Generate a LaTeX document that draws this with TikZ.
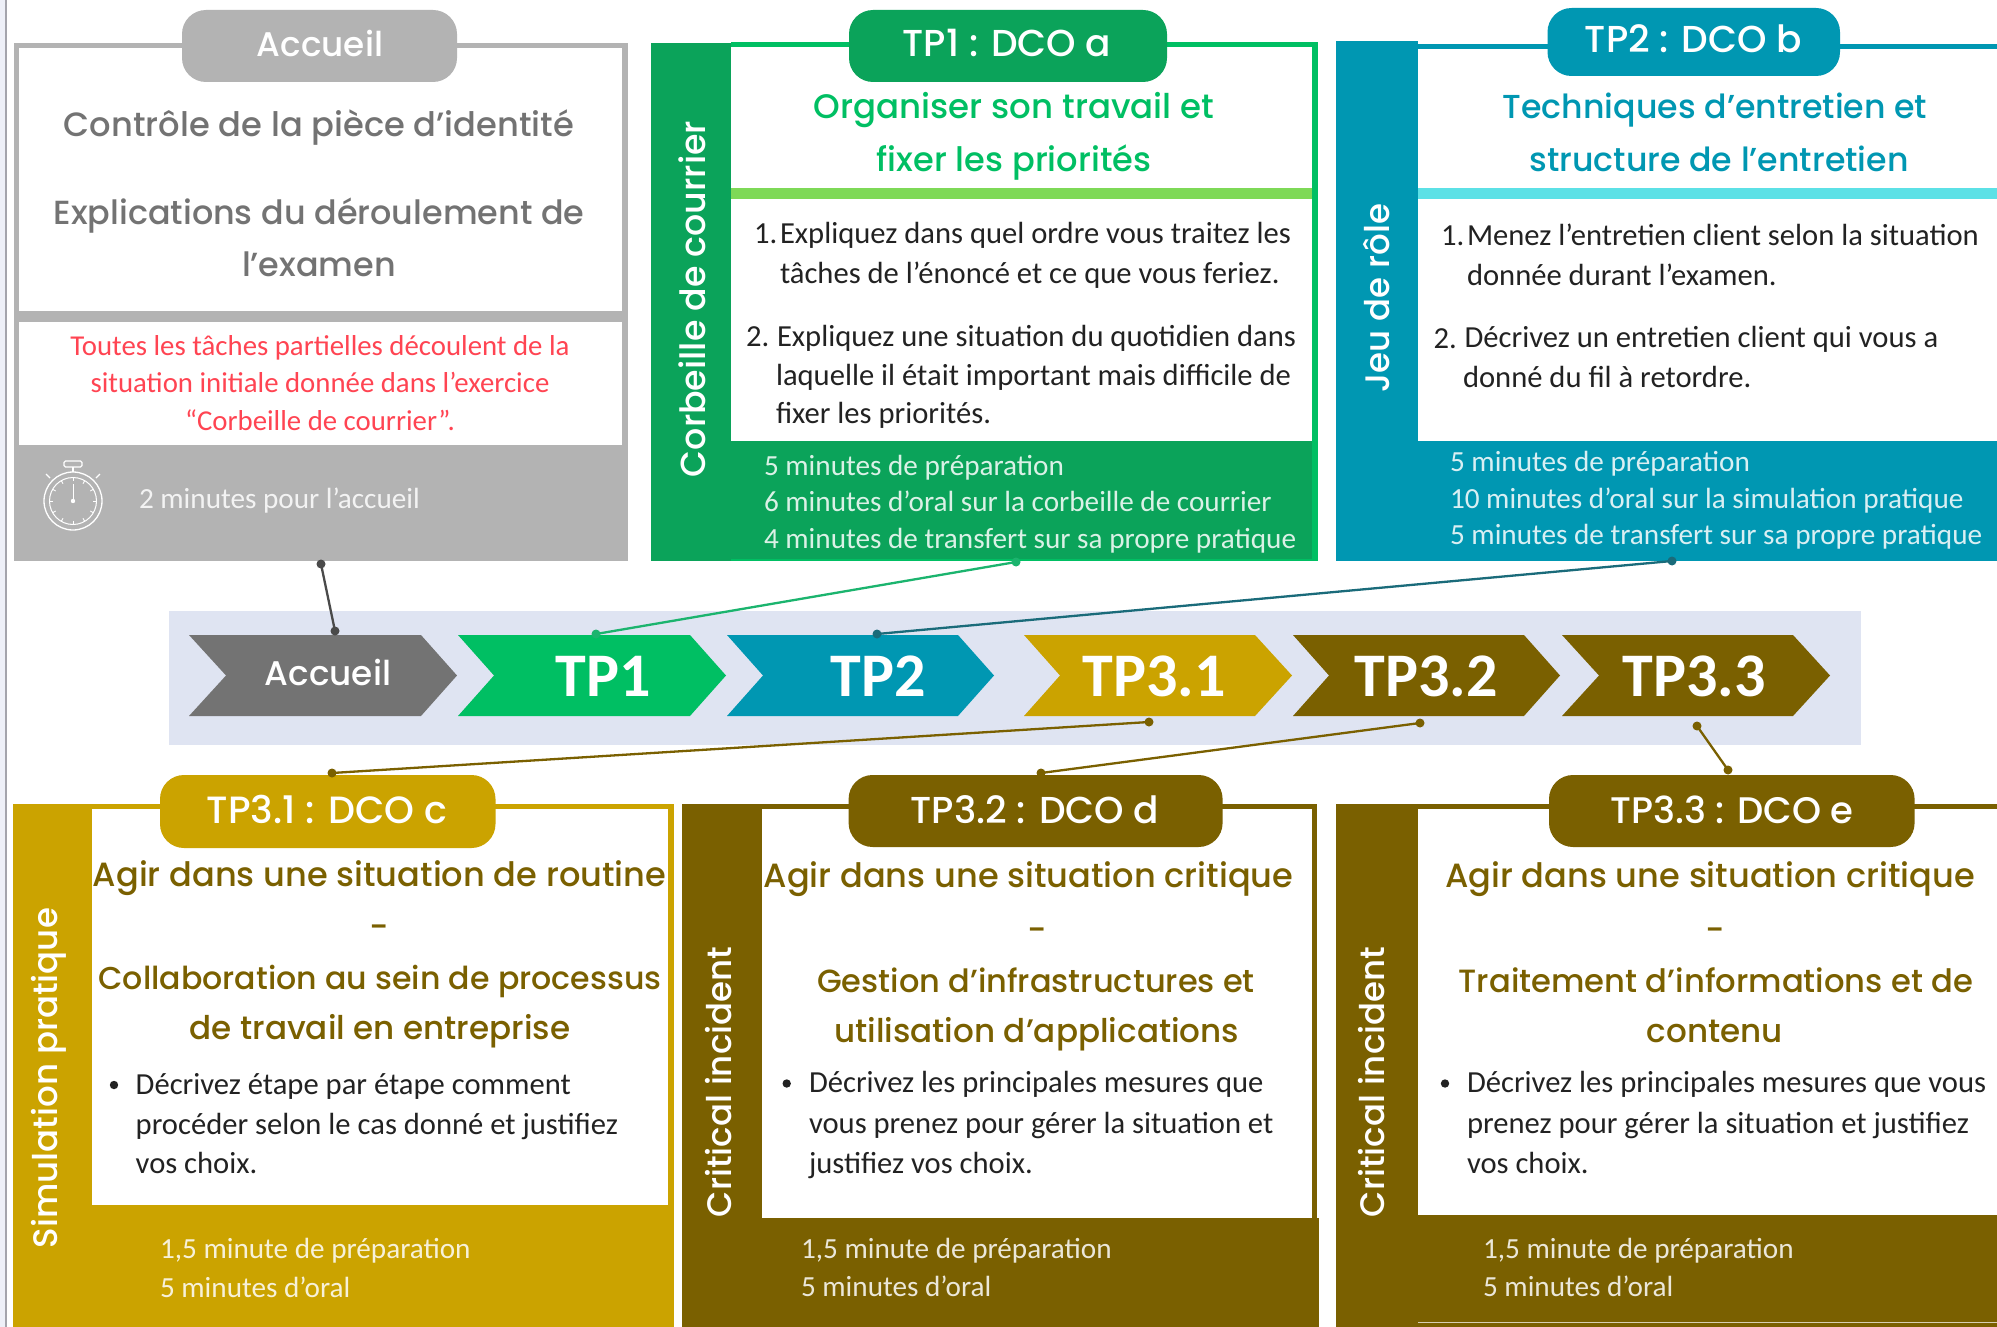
\documentclass[tikz,border=0pt]{standalone}
\usepackage{fontspec}
\setmainfont{Carlito}
\newfontfamily\headf{Poppins Medium}
\newfontfamily\bodyf{Carlito}
\definecolor{cgrey}{HTML}{B3B3B3}
\definecolor{cdgrey}{HTML}{737373}
\definecolor{cgreen}{HTML}{0BA35A}
\definecolor{cbright}{HTML}{00BF63}
\definecolor{cbar}{HTML}{7ED957}
\definecolor{cblue}{HTML}{0097B2}
\definecolor{ccyan}{HTML}{5CE1E6}
\definecolor{cgold}{HTML}{CBA300}
\definecolor{cbrown}{HTML}{7A6000}
\definecolor{cred}{HTML}{FF4452}
\definecolor{cpanel}{HTML}{DFE4F2}
\definecolor{cink}{HTML}{222222}
\definecolor{cteal}{HTML}{1A6B7A}
\definecolor{cline}{HTML}{1BB46E}
\definecolor{ccon}{HTML}{4A4A4A}
\definecolor{cedge}{HTML}{A4A4AC}
\definecolor{cpale}{HTML}{EEF0F8}
\tikzset{
  txt/.style={inner sep=0pt,outer sep=0pt},
  pilltxt/.style={txt,yshift=-10pt,anchor=mid,text=white,font=\headf\fontsize{#1}{38}\selectfont},
  pilltxt/.default=37.5,
  sidetxt/.style={txt,xshift=9.5pt,anchor=mid,rotate=90,text=white,font=\headf\fontsize{#1}{38}\selectfont},
  sidetxt/.default=34,
  headtxt/.style={txt,yshift=-8.5pt,anchor=mid,font=\headf\fontsize{#1}{36}\selectfont},
  headtxt/.default=33.2,
  greyhead/.style={headtxt=#1,text=cdgrey},
  greyhead/.default=33.4,
  redtxt/.style={txt,yshift=-7.3pt,anchor=mid,text=cred,font=\bodyf\fontsize{28.8}{32}\selectfont},
  listtxt/.style={txt,yshift=-7.4pt,anchor=mid west,text=cink,font=\bodyf\fontsize{30.6}{32}\selectfont},
  timetxt/.style={txt,yshift=-7.5pt,anchor=mid west,text=white,opacity=.85,font=\bodyf\fontsize{29.2}{32}\selectfont},
  chevtxt/.style={txt,yshift=-16pt,anchor=mid,text=white,font=\bodyf\bfseries\fontsize{62}{66}\selectfont},
  chevsmall/.style={txt,yshift=-10.5pt,anchor=mid,text=white,font=\headf\fontsize{34.2}{38}\selectfont},
  conn/.style={line width=2.3pt},
  pillbox/.style={rounded corners=24pt},
}
\newcommand{\chev}[5]{% colour, left, notch, upper right, tip
  \fill[#1] (#2,635) -- (#4,635) -- (#5,675.5) -- (#4,716) -- (#2,716) -- (#3,675.5) -- cycle;}
\begin{document}
\begin{tikzpicture}[x=1pt,y=-1pt]
\useasboundingbox (0,0) rectangle (1997,1327);
\fill[white] (0,0) rectangle (1997,1327);
\fill[cpale] (0,0) rectangle (5,1327);
\fill[cedge] (5,0) rectangle (6.6,1327);

% Accueil panel
\fill[cgrey] (13.5,43) rectangle (627.5,561);
\fill[white] (19.4,48) rectangle (621.6,311);
\fill[white] (19.4,322) rectangle (621.6,445);
\fill[cgrey,pillbox] (182,10) rectangle (457,82);
\node[pilltxt=34.2] (pa) at (320,44) {Accueil};
\node[greyhead=33.7] (a1) at (319,126) {Contrôle de la pièce d’identité};
\node[greyhead] (a2) at (319,213.5) {Explications du déroulement de};
\node[greyhead] (a3) at (319,266) {l’examen};
\node[redtxt] (r1) at (320,346) {Toutes les tâches partielles découlent de la};
\node[redtxt] (r2) at (320,383) {situation initiale donnée dans l’exercice};
\node[redtxt] (r3) at (320,421) {“Corbeille de courrier”.};
\node[timetxt] (at) at (139,499) {2 minutes pour l’accueil};
% stopwatch
\draw[white,line width=1.3pt] (73,501) circle (29pt);
\draw[white,line width=1pt] (73,501) circle (23.5pt);
\draw[white,line width=1.2pt,rounded corners=1.5pt] (64,461) rectangle (82,467);
\draw[white,line width=1.2pt] (73,467) -- (73,472);
\draw[white,line width=1.2pt] (50,478) -- (46,474) (96,478) -- (100,474);
\foreach \t in {0,30,...,330}{\draw[white,line width=.9pt] (73,501) ++(\t:20pt) -- ++(\t:3.5pt);}
\draw[white,line width=1pt] (73,501) -- (73,484);
\fill[white] (73,501) circle (2.2pt);

% TP1 panel
\fill[cbright] (731,42) rectangle (1318,561);
\fill[cgreen] (651,43) rectangle (731,561);
\fill[cgreen] (731,441) rectangle (1312,559);
\fill[white] (731,47.5) rectangle (1312,188);
\fill[cbar] (731,188) rectangle (1312,199);
\fill[white] (731,199) rectangle (1312,441);
\fill[cgreen,pillbox] (849,10) rectangle (1167,82);
\node[pilltxt] (p1) at (1007,44) {TP1 : DCO a};
\node[sidetxt=34.8] (s1) at (694,299) {Corbeille de courrier};
\node[headtxt=34,text=cbright] (h1a) at (1014,108) {Organiser son travail et};
\node[headtxt=33.6,text=cbright] (h1b) at (1014,161) {fixer les priorités};
\node[listtxt] (n1a) at (754,234) {1.};
\node[listtxt] (l1a) at (780,234) {Expliquez dans quel ordre vous traitez les};
\node[listtxt] (l1b) at (780,274) {tâches de l’énoncé et ce que vous feriez.};
\node[listtxt] (n1b) at (746,337) {2.};
\node[listtxt] (l1c) at (777,337) {Expliquez une situation du quotidien dans};
\node[listtxt] (l1d) at (776,376) {laquelle il était important mais difficile de};
\node[listtxt] (l1e) at (776,414) {fixer les priorités.};
\node[timetxt] (t1a) at (764,466) {5 minutes de préparation};
\node[timetxt] (t1b) at (764,502) {6 minutes d’oral sur la corbeille de courrier};
\node[timetxt] (t1c) at (764,539) {4 minutes de transfert sur sa propre pratique};

% TP2 panel
\fill[cblue] (1336,41) rectangle (1418,561);
\fill[cblue] (1418,44) rectangle (1997,561);
\fill[white] (1418,48.6) rectangle (1997,188);
\fill[ccyan] (1418,188) rectangle (1997,199);
\fill[white] (1418,199) rectangle (1997,441);
\fill[cblue,pillbox] (1547.5,8) rectangle (1840,76);
\node[pilltxt] (p2) at (1693.5,40) {TP2 : DCO b};
\node[sidetxt] (s2) at (1378,298) {Jeu de rôle};
\node[headtxt,text=cblue] (h2a) at (1715,108) {Techniques d’entretien et};
\node[headtxt,text=cblue] (h2b) at (1719,161) {structure de l’entretien};
\node[listtxt] (n2a) at (1441,236) {1.};
\node[listtxt] (l2a) at (1467,236) {Menez l’entretien client selon la situation};
\node[listtxt] (l2b) at (1467,276) {donnée durant l’examen.};
\node[listtxt] (n2b) at (1433.6,339) {2.};
\node[listtxt] (l2c) at (1464.6,338) {Décrivez un entretien client qui vous a};
\node[listtxt] (l2d) at (1463,378) {donné du fil à retordre.};
\node[timetxt] (t2a) at (1450,462) {5 minutes de préparation};
\node[timetxt] (t2b) at (1450,499) {10 minutes d’oral sur la simulation pratique};
\node[timetxt] (t2c) at (1450,535) {5 minutes de transfert sur sa propre pratique};

% Timeline
\fill[cpanel] (169,611) rectangle (1861,745);
\chev{cdgrey}{189}{226}{421}{457}
\chev{cbright}{458}{494}{690}{726}
\chev{cblue}{727}{763}{958}{994}
\chev{cgold}{1024}{1060}{1255}{1292}
\chev{cbrown}{1293}{1329}{1524}{1560}
\chev{cbrown}{1562}{1599}{1793}{1830}
\node[chevsmall] (ca) at (328,673) {Accueil};
\node[chevtxt] (c1) at (603,678) {TP1};
\node[chevtxt] (c2) at (878,678) {TP2};
\node[chevtxt] (c31) at (1154,678) {TP3.1};
\node[chevtxt] (c32) at (1426,678) {TP3.2};
\node[chevtxt] (c33) at (1694,678) {TP3.3};

% TP3.1 panel
\fill[cgold] (13.4,804) rectangle (674,1327);
\fill[white] (92.4,808.6) rectangle (668,1205);
\fill[cgold,pillbox] (160,775) rectangle (495.5,848);
\node[pilltxt=38] (p31) at (327,811) {TP3.1 : DCO c};
\node[sidetxt] (s31) at (45.5,1078) {Simulation pratique};
\node[headtxt=33.6,text=cbrown] (h31a) at (379.5,876) {Agir dans une situation de routine};
\node[headtxt,text=cbrown] (h31b) at (379.5,928) {-};
\node[headtxt=31.6,text=cbrown] (h31c) at (380,978.5) {Collaboration au sein de processus};
\node[headtxt=32.6,text=cbrown] (h31d) at (380,1029) {de travail en entreprise};
\fill[cink] (114,1085) circle (4.2pt);
\node[listtxt] (l31a) at (135.7,1085) {Décrivez étape par étape comment};
\node[listtxt] (l31b) at (135.7,1125) {procéder selon le cas donné et justifiez};
\node[listtxt] (l31c) at (135.7,1164) {vos choix.};
\node[timetxt] (t31a) at (160,1249) {1,5 minute de préparation};
\node[timetxt] (t31b) at (160,1287.5) {5 minutes d’oral};

% TP3.2 panel
\fill[cbrown] (682,804) rectangle (1316.6,1327);
\fill[cbrown] (761.5,1218) rectangle (1318.7,1327);
\fill[white] (761.5,808.6) rectangle (1312,1218);
\fill[cbrown,pillbox] (848.6,775) rectangle (1222.6,847);
\node[pilltxt] (p32) at (1035,811) {TP3.2 : DCO d};
\node[sidetxt] (s32) at (719.5,1082) {Critical incident};
\node[headtxt=33.6,text=cbrown] (h32a) at (1028.5,877) {Agir dans une situation critique};
\node[headtxt,text=cbrown] (h32b) at (1036.7,931) {-};
\node[headtxt=32,text=cbrown] (h32c) at (1036,981.6) {Gestion d’infrastructures et};
\node[headtxt=32.6,text=cbrown] (h32d) at (1036.7,1032) {utilisation d’applications};
\fill[cink] (786.7,1083.5) circle (4.2pt);
\node[listtxt] (l32a) at (809,1083) {Décrivez les principales mesures que};
\node[listtxt] (l32b) at (809,1123.6) {vous prenez pour gérer la situation et};
\node[listtxt] (l32c) at (809,1163.7) {justifiez vos choix.};
\node[timetxt] (t32a) at (801,1249) {1,5 minute de préparation};
\node[timetxt] (t32b) at (801,1287) {5 minutes d’oral};

% TP3.3 panel
\fill[cbrown] (1336,804) rectangle (1997,1327);
\fill[white] (1418,808.6) rectangle (1997,1215.3);
\fill[cbrown,pillbox] (1549,775) rectangle (1914.6,847);
\fill[white!70!cbrown] (1418,1321.5) rectangle (1997,1323);
\node[pilltxt=37] (p33) at (1732,811) {TP3.3 : DCO e};
\node[sidetxt] (s33) at (1373,1082) {Critical incident};
\node[headtxt=33.6,text=cbrown] (h33a) at (1710,877) {Agir dans une situation critique};
\node[headtxt,text=cbrown] (h33b) at (1715,931) {-};
\node[headtxt=32.2,text=cbrown] (h33c) at (1716,982) {Traitement d’informations et de};
\node[headtxt=32.6,text=cbrown] (h33d) at (1715,1032) {contenu};
\fill[cink] (1445,1083.5) circle (4.2pt);
\node[listtxt] (l33a) at (1467,1083) {Décrivez les principales mesures que vous};
\node[listtxt] (l33b) at (1467,1123.6) {prenez pour gérer la situation et justifiez};
\node[listtxt] (l33c) at (1467,1164) {vos choix.};
\node[timetxt] (t33a) at (1483,1249) {1,5 minute de préparation};
\node[timetxt] (t33b) at (1483,1287) {5 minutes d’oral};

% connectors
\coordinate (ka) at (321,564);   \coordinate (kb) at (335,631);
\coordinate (k1a) at (1016,562); \coordinate (k1b) at (596,634);
\coordinate (k2a) at (1672,561); \coordinate (k2b) at (877,634);
\coordinate (k3a) at (1149,722); \coordinate (k3b) at (332,773);
\coordinate (k4a) at (1420,723); \coordinate (k4b) at (1041,773);
\coordinate (k5a) at (1697,726); \coordinate (k5b) at (1728,770);
\draw[conn,ccon] (ka) -- (kb);
\fill[ccon] (ka) circle (4.5pt) (kb) circle (4.5pt);
\draw[conn,cline] (k1a) -- (k1b);
\fill[cline] (k1a) circle (4.5pt) (k1b) circle (4.5pt);
\draw[conn,cteal] (k2a) -- (k2b);
\fill[cteal] (k2a) circle (4.5pt) (k2b) circle (4.5pt);
\draw[conn,cbrown] (k3a) -- (k3b);
\fill[cbrown] (k3a) circle (4.5pt) (k3b) circle (4.5pt);
\draw[conn,cbrown] (k4a) -- (k4b);
\fill[cbrown] (k4a) circle (4.5pt) (k4b) circle (4.5pt);
\draw[conn,cbrown] (k5a) -- (k5b);
\fill[cbrown] (k5a) circle (4.5pt) (k5b) circle (4.5pt);
\end{tikzpicture}
\end{document}
